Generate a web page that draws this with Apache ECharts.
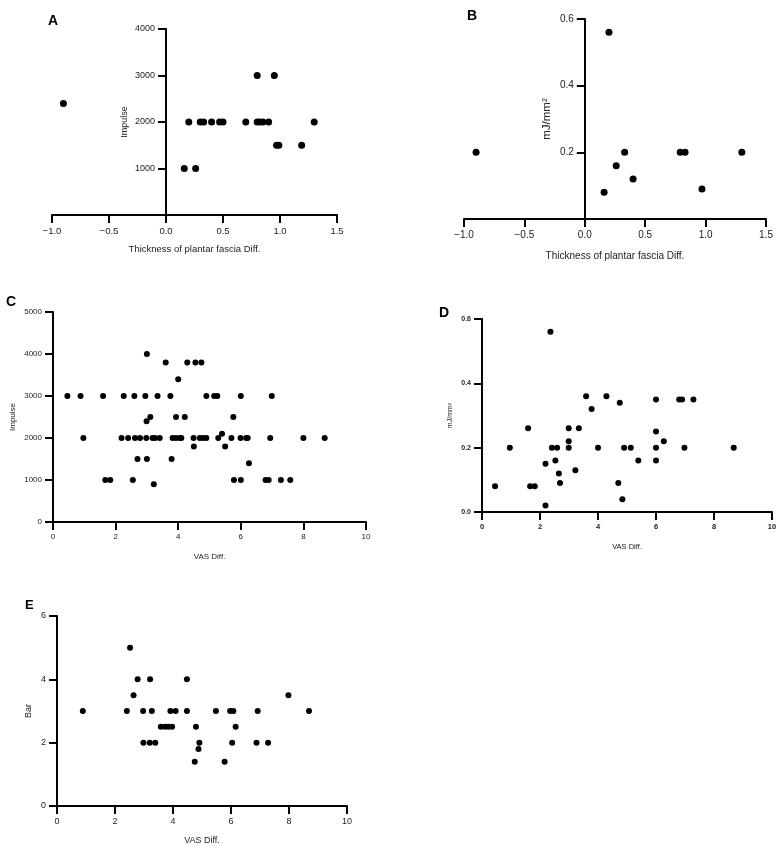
<!DOCTYPE html>
<html lang="en">
<head>
    <meta charset="UTF-8">
    <title>Scatter panels</title>
    <script src="https://cdn.jsdelivr.net/npm/echarts@6/dist/echarts.min.js"></script>
    <style>
        html, body { margin: 0; padding: 0; background: #fff; }
        #main { width: 783px; height: 849px; }
    </style>
</head>
<body>
<div id="main"></div>
<script>
    // A: thickness diff vs impulse
    const impulseThickness = [
        [-0.9, 2400], [0.16, 1000], [0.26, 1000], [0.2, 2000], [0.3, 2000], [0.33, 2000],
        [0.4, 2000], [0.47, 2000], [0.5, 2000], [0.7, 2000], [0.8, 3000], [0.8, 2000],
        [0.82, 2000], [0.85, 2000], [0.9, 2000], [0.95, 3000], [0.97, 1500], [0.99, 1500],
        [1.19, 1500], [1.3, 2000]
    ];
    // B: thickness diff vs energy
    const energyThickness = [
        [-0.9, 0.2], [0.2, 0.56], [0.16, 0.08], [0.26, 0.16], [0.33, 0.2], [0.4, 0.12],
        [0.79, 0.2], [0.83, 0.2], [0.97, 0.09], [1.3, 0.2]
    ];
    // C: VAS diff vs impulse
    const impulseVas = [
        [0.46, 3000], [0.88, 3000], [1.6, 3000], [2.26, 3000], [2.6, 3000], [2.95, 3000],
        [3.34, 3000], [3.75, 3000], [4.9, 3000], [5.15, 3000], [5.25, 3000], [6.0, 3000], [6.99, 3000],
        [0.97, 2000], [2.19, 2000], [2.4, 2000], [2.62, 2000], [2.78, 2000], [2.98, 2000],
        [3.18, 2000], [3.26, 2000], [3.41, 2000], [3.82, 2000], [3.93, 2000], [4.05, 2000],
        [4.1, 2000], [4.49, 2000], [4.69, 2000], [4.8, 2000], [4.9, 2000], [5.28, 2000],
        [5.7, 2000], [5.99, 2000], [6.17, 2000], [6.22, 2000], [6.94, 2000], [8.0, 2000], [8.68, 2000],
        [1.67, 1000], [1.83, 1000], [2.55, 1000], [5.78, 1000], [6.0, 1000], [6.79, 1000],
        [6.89, 1000], [7.28, 1000], [7.58, 1000],
        [3.0, 4000], [3.6, 3800], [4.29, 3800], [4.55, 3800], [4.74, 3800], [4.0, 3400],
        [3.11, 2500], [3.93, 2500], [4.21, 2500], [5.76, 2500], [2.99, 2400],
        [2.7, 1500], [3.0, 1500], [3.79, 1500], [4.5, 1800], [5.5, 1800], [5.4, 2100],
        [6.26, 1400], [3.22, 900]
    ];
    // D: VAS diff vs energy
    const energyVas = [
        [0.45, 0.08], [0.96, 0.2], [1.59, 0.26], [1.66, 0.08], [1.82, 0.08], [2.19, 0.02],
        [2.19, 0.15], [2.36, 0.56], [2.41, 0.2], [2.53, 0.16], [2.59, 0.2], [2.65, 0.12],
        [2.69, 0.09], [2.99, 0.26], [2.99, 0.22], [2.99, 0.2], [3.22, 0.13], [3.34, 0.26],
        [3.59, 0.36], [3.78, 0.32], [4.0, 0.2], [4.29, 0.36], [4.7, 0.09], [4.75, 0.34],
        [4.84, 0.04], [4.9, 0.2], [5.13, 0.2], [5.39, 0.16], [6.0, 0.35], [6.0, 0.25],
        [6.0, 0.2], [6.0, 0.16], [6.27, 0.22], [6.8, 0.35], [6.9, 0.35], [6.98, 0.2],
        [7.29, 0.35], [8.68, 0.2]
    ];
    // E: VAS diff vs bar
    const barVas = [
        [0.89, 3], [2.41, 3], [2.52, 5], [2.64, 3.5], [2.78, 4], [2.97, 3], [2.98, 2],
        [3.2, 2], [3.21, 4], [3.27, 3], [3.39, 2], [3.58, 2.5], [3.72, 2.5], [3.84, 2.5],
        [3.91, 3], [3.97, 2.5], [4.09, 3], [4.48, 4], [4.48, 3], [4.75, 1.4], [4.79, 2.5],
        [4.88, 1.8], [4.91, 2], [5.48, 3], [5.78, 1.4], [5.97, 3], [6.08, 3], [6.04, 2],
        [6.16, 2.5], [6.88, 2], [6.92, 3], [7.28, 2], [7.98, 3.5], [8.69, 3]
    ];
    const panelLetters = ['A', 'B', 'C', 'D', 'E'];

    const myChart = echarts.init(document.getElementById('main'));
    const font = 'Liberation Sans, Arial, sans-serif';
    const black = '#000';

    function xAx(i, min, max, step, name, fs, gap, dec, bold) {
        return {
            gridIndex: i, type: 'value', min: min, max: max, interval: step,
            name: name, nameLocation: 'middle', nameGap: gap,
            nameTextStyle: { fontFamily: font, fontSize: fs, color: '#222' },
            splitLine: { show: false },
            axisLine: { onZero: false, lineStyle: { color: black, width: 2 } },
            axisTick: { length: 8, lineStyle: { color: black, width: 2 } },
            axisLabel: {
                margin: 11, fontFamily: font, fontSize: fs, color: '#222',
                fontWeight: bold ? 'bold' : 'normal',
                formatter: v => (v < 0 ? '\u2212' : '') + Math.abs(v).toFixed(dec)
            }
        };
    }
    // shift: how far right of the grid's left edge the y axis sits (x = 0 for A and B)
    function yAx(i, max, step, name, fs, nfs, gap, dec, hideZero, bold, shift) {
        return {
            gridIndex: i, type: 'value', min: 0, max: max, interval: step,
            offset: -(shift || 0),
            name: name, nameLocation: 'middle', nameGap: gap,
            nameTextStyle: { fontFamily: font, fontSize: nfs, color: '#222' },
            splitLine: { show: false },
            axisLine: { onZero: false, lineStyle: { color: black, width: 2 } },
            axisTick: { length: 8, lineStyle: { color: black, width: 2 } },
            axisLabel: {
                margin: 11, fontFamily: font, fontSize: fs, color: '#222',
                fontWeight: bold ? 'bold' : 'normal',
                formatter: v => (hideZero && v === 0) ? '' : v.toFixed(dec)
            }
        };
    }
    function dots(i, data, size) {
        return {
            type: 'scatter', xAxisIndex: i, yAxisIndex: i, data: data,
            symbolSize: size, itemStyle: { color: black, opacity: 1 }
        };
    }

    const letterPos = [[48, 14], [467, 9], [6, 295], [439, 306], [25, 599]];
    const gridA = { left: 52, top: 29, width: 285, height: 186 };
    const gridB = { left: 464, top: 19, width: 302, height: 200 };

    let option = {
        animation: false,
        title: panelLetters.map((t, k) => ({
            text: t, left: letterPos[k][0], top: letterPos[k][1], padding: 0,
            textStyle: { fontFamily: font, fontSize: k === 4 ? 13 : 14, fontWeight: 'bold', color: black }
        })),
        grid: [
            gridA,
            gridB,
            { left: 53, top: 312, width: 313, height: 210 },
            { left: 482, top: 319, width: 290, height: 193 },
            { left: 57, top: 616, width: 290, height: 190 }
        ],
        xAxis: [
            xAx(0, -1, 1.5, 0.5, 'Thickness of plantar fascia Diff.', 9.5, 29, 1),
            xAx(1, -1, 1.5, 0.5, 'Thickness of plantar fascia Diff.', 10, 32, 1),
            xAx(2, 0, 10, 2, 'VAS Diff.', 8, 31, 0),
            xAx(3, 0, 10, 2, 'VAS Diff.', 7.5, 31, 0, true),
            xAx(4, 0, 10, 2, 'VAS Diff.', 9, 30, 0)
        ],
        yAxis: [
            yAx(0, 4000, 1000, 'Impulse', 9, 9, 37, 0, true, false, gridA.width * 0.4),
            yAx(1, 0.6, 0.2, 'mJ/mm\u00b2', 10, 11.5, 32, 1, true, false, gridB.width * 0.4),
            yAx(2, 5000, 1000, 'Impulse', 8, 8, 36, 0, false),
            yAx(3, 0.6, 0.2, 'mJ/mm\u00b2', 7, 7, 28, 1, false, true),
            yAx(4, 6, 2, 'Bar', 9, 9, 24, 0, false)
        ],
        series: [
            dots(0, impulseThickness, 7),
            dots(1, energyThickness, 7),
            dots(2, impulseVas, 6),
            dots(3, energyVas, 6),
            dots(4, barVas, 6)
        ]
    };
    myChart.setOption(option);
</script>
</body>
</html>
